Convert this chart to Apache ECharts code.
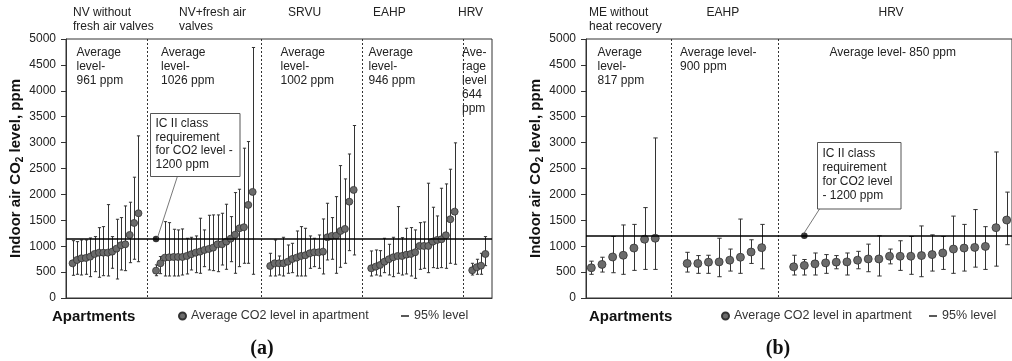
<!DOCTYPE html>
<html><head><meta charset="utf-8">
<script src="https://cdn.jsdelivr.net/npm/echarts@6/dist/echarts.min.js"></script>
<style>html,body{margin:0;padding:0;background:#fff}#c{width:1012px;height:361px}</style>
</head><body><div id="c"></div>
<script>
// ---------- Panel (a) data ----------
const aGroupNames = ['NV without fresh air valves', 'NV+fresh air valves', 'SRVU', 'EAHP', 'HRV'];
const aNvMean  = [670,734,767,773,798,850,875,875,875,895,953,1018,1037,1217,1449,1636];
const aNvLow   = [438,458,444,458,412,508,400,431,425,574,367,541,528,682,748,701];
const aNvHigh  = [1107,1088,1120,1120,1159,1185,1358,1378,1803,1185,1520,1552,1777,1849,2332,3130];
const aNvfMean = [528,670,779,786,792,792,792,811,844,875,895,927,947,972,1037,1037,1088,1146,1223,1346,1366,1797,2048];
const aNvfLow  = [430,470,425,425,425,425,444,464,541,489,477,605,541,528,508,637,554,701,477,605,670,670,458];
const aNvfHigh = [640,800,1474,1455,1327,1314,1333,1153,1172,1198,1540,1314,1597,1604,1604,1636,1810,1571,2035,2100,2892,3020,4836];
const aSrvuMean = [618,670,670,670,701,753,779,811,825,863,882,882,895,1172,1198,1204,1294,1333,1860,2087];
const aSrvuLow  = [425,425,444,425,477,489,425,425,425,573,605,573,464,734,748,477,593,670,914,831];
const aSrvuHigh = [863,1120,811,1172,1024,1056,1294,1378,1346,1198,1153,1217,1526,1829,1552,1957,2556,2299,2780,3330];
const aEahpMean = [573,605,637,701,748,786,811,811,837,850,882,1005,1005,1005,1088,1120,1134,1211,1520,1667];
const aEahpLow  = [425,444,425,489,444,412,477,444,464,425,380,554,573,489,586,573,586,573,670,651];
const aEahpHigh = [908,927,914,1153,1037,1172,1764,1165,1346,1359,1314,1455,1468,2216,1752,1584,2119,2202,2486,2995];
const aHrvMean = [535,593,624,850];
const aHrvLow  = [444,458,458,624];
const aHrvHigh = [670,748,863,1185];
const aRefLevel = 1140;
const aAnnotIndex = 20;

// ---------- Panel (b) data ----------
const bGroupNames = ['ME without heat recovery', 'EAHP', 'HRV'];
const bMeMean = [583,648,792,825,964,1135,1154];
const bMeLow  = [457,501,488,457,533,552,552];
const bMeHigh = [711,787,1187,1410,1421,1745,3090];
const bEahpMean = [667,667,692,697,730,787,888,972];
const bEahpLow  = [501,476,476,411,520,476,667,564];
const bEahpHigh = [882,819,825,1154,945,1524,1124,1421];
const bHrvMean = [602,629,659,678,692,697,730,754,754,806,806,806,819,838,869,945,964,977,996,1358,1505];
const bHrvLow  = [444,444,444,476,564,444,564,507,425,659,533,457,411,520,552,476,520,596,552,615,1029];
const bHrvHigh = [825,743,869,838,819,869,901,1040,1200,945,1105,1187,1391,1219,1187,1581,1421,1707,1377,2819,2044];
const bRefLevel = 1200;
const bAnnotIndex = 20;

const yTicks = [0,500,1000,1500,2000,2500,3000,3500,4000,4500,5000];

// ---------- build category layout ----------
function build(names, means, lows, highs, lead, gap, trail) {
  const cats = [], pts = [], bars = [], dividers = [];
  let idx = 0;
  for (let i = 0; i < lead; i++) { cats.push('blank-lead-' + i); idx++; }
  names.forEach((nm, gi) => {
    if (gi > 0) {
      const prevLast = idx - 1;
      for (let k = 0; k < gap; k++) { cats.push('blank-' + gi + '-' + k); idx++; }
      dividers.push([(prevLast + idx) / 2 + 0.5, 0]);
    }
    means[gi].forEach((m, j) => {
      cats.push(nm + ' ' + (j + 1));
      pts.push([idx, m]);
      bars.push([idx, lows[gi][j], highs[gi][j]]);
      idx++;
    });
  });
  for (let i = 0; i < trail; i++) cats.push('blank-trail-' + i);
  return { cats, pts, bars, dividers };
}
const A = build(aGroupNames,
  [aNvMean, aNvfMean, aSrvuMean, aEahpMean, aHrvMean],
  [aNvLow, aNvfLow, aSrvuLow, aEahpLow, aHrvLow],
  [aNvHigh, aNvfHigh, aSrvuHigh, aEahpHigh, aHrvHigh], 1, 3, 1);
const B = build(bGroupNames,
  [bMeMean, bEahpMean, bHrvMean],
  [bMeLow, bEahpLow, bHrvLow],
  [bMeHigh, bEahpHigh, bHrvHigh], 0, 2, 0);

const FONT = '"Liberation Sans", Arial, sans-serif';
const AXC = '#333';

function errorBar(capHalf) {
  return function (params, api) {
    const lo = api.coord([api.value(0), api.value(1)]);
    const hi = api.coord([api.value(0), api.value(2)]);
    const x = Math.round(lo[0]) + 0.5;
    const st = { stroke: '#333', lineWidth: 1 };
    return { type: 'group', children: [
      { type: 'line', shape: { x1: x, y1: hi[1], x2: x, y2: lo[1] }, style: st },
      { type: 'line', shape: { x1: x - capHalf, y1: hi[1], x2: x + capHalf, y2: hi[1] }, style: st },
      { type: 'line', shape: { x1: x - capHalf, y1: lo[1], x2: x + capHalf, y2: lo[1] }, style: st }
    ]};
  };
}
function dividerLine(params, api) {
  const x = Math.round(api.coord([api.value(0), 0])[0]) + 0.5;
  const cs = params.coordSys;
  return { type: 'line', shape: { x1: x, y1: cs.y, x2: x, y2: cs.y + cs.height },
    style: { stroke: '#333', lineWidth: 1, lineDash: [2, 2] } };
}

function yAxis(gi) {
  return {
    type: 'value', gridIndex: gi, min: yTicks[0], max: yTicks[yTicks.length - 1], interval: yTicks[1] - yTicks[0],
    axisLine: { show: true, lineStyle: { color: AXC } },
    axisTick: { show: true, length: 5, lineStyle: { color: AXC } },
    axisLabel: { fontSize: 12, color: '#222', fontFamily: FONT, margin: 10, formatter: v => String(v) },
    splitLine: { show: false },
    name: '{t|Indoor air CO}{s|2}{t| level, ppm}',
    nameLocation: 'middle', nameRotate: 90, nameGap: 35,
    nameTextStyle: { rich: {
      t: { fontSize: 15, fontWeight: 'bold', fontFamily: FONT, color: '#111', lineHeight: 20 },
      s: { fontSize: 10, fontWeight: 'bold', fontFamily: FONT, color: '#111', lineHeight: 12, verticalAlign: 'bottom' }
    } }
  };
}
function catAxis(gi, cats) {
  return { type: 'category', gridIndex: gi, data: cats, boundaryGap: true,
    axisLine: { lineStyle: { color: AXC } },
    axisTick: { interval: 0, length: 3, lineStyle: { color: '#555' } },
    axisLabel: { show: false }, splitLine: { show: false } };
}
function hiddenAxis(gi, n) {
  return { type: 'value', gridIndex: gi, min: 0, max: n, show: false, position: 'top', splitLine: { show: false } };
}
function panelSeries(P, xCat, xVal, yi, ref, annotIdx, size, cap) {
  return [
    { type: 'custom', name: '95% level', xAxisIndex: xCat, yAxisIndex: yi, data: P.bars,
      encode: { x: 0, y: [1, 2] }, renderItem: errorBar(cap), itemStyle: { color: '#222' }, z: 2, silent: true },
    { type: 'scatter', name: 'Average CO2 level in apartment', xAxisIndex: xCat, yAxisIndex: yi, data: P.pts,
      symbol: 'circle', symbolSize: size,
      itemStyle: { color: '#6b6b6b', borderColor: '#333', borderWidth: 0.8, opacity: 1 }, z: 3,
      markLine: { silent: true, symbol: ['none', 'none'], label: { show: false },
        lineStyle: { color: '#000', width: 1.5, type: 'solid' }, data: [{ yAxis: ref }] } },
    { type: 'scatter', name: 'IC II class requirement', xAxisIndex: xCat, yAxisIndex: yi,
      data: [[annotIdx, ref]], symbolSize: 6.5, itemStyle: { color: '#000' }, z: 4 },
    { type: 'custom', name: 'dividers', xAxisIndex: xVal, yAxisIndex: yi, data: P.dividers,
      encode: { x: 0, y: 1 }, renderItem: dividerLine, z: 1, silent: true }
  ];
}

function txt(text, x, yc, o) {
  o = o || {};
  const lh = o.lh || 14, size = o.size || 12, weight = o.weight || 'normal';
  const fam = o.family || FONT;
  return { type: 'text', x: x, y: yc - lh / 2, z: 20,
    style: { text: text, font: weight + ' ' + size + 'px ' + fam, fill: o.fill || '#222', lineHeight: lh,
      textAlign: o.align || 'left', align: o.align || 'left', textVerticalAlign: 'top', verticalAlign: 'top' } };
}
function box(x, y, w, h) {
  return { type: 'rect', z: 15, shape: { x: x, y: y, width: w, height: h },
    style: { fill: '#fff', stroke: '#555', lineWidth: 1 } };
}
function leader(x1, y1, x2, y2) {
  return { type: 'line', z: 14, shape: { x1, y1, x2, y2 }, style: { stroke: '#555', lineWidth: 0.8 } };
}

const legendBase = { orient: 'horizontal', padding: 0, selectedMode: false, itemGap: 10,
  textStyle: { fontSize: 12.5, color: '#333', fontFamily: FONT } };

const option = {
  animation: false,
  backgroundColor: '#fff',
  grid: [
    { left: 66, top: 39, width: 426, height: 259, show: true, borderColor: AXC, borderWidth: 1 },
    { left: 586, top: 39, width: 428, height: 259, show: true, borderColor: AXC, borderWidth: 1 }
  ],
  xAxis: [catAxis(0, A.cats), hiddenAxis(0, A.cats.length), catAxis(1, B.cats), hiddenAxis(1, B.cats.length)],
  yAxis: [yAxis(0), yAxis(1)],
  legend: [
    Object.assign({}, legendBase, { data: ['Average CO2 level in apartment'], left: 178, top: 309.5, icon: 'circle', itemWidth: 7, itemHeight: 7 }),
    Object.assign({}, legendBase, { data: ['95% level'], left: 401, top: 309.5, icon: 'rect', itemWidth: 8, itemHeight: 1.5 }),
    Object.assign({}, legendBase, { data: ['Average CO2 level in apartment'], left: 721, top: 309.5, icon: 'circle', itemWidth: 7, itemHeight: 7 }),
    Object.assign({}, legendBase, { data: ['95% level'], left: 929, top: 309.5, icon: 'rect', itemWidth: 8, itemHeight: 1.5 })
  ],
  series: [].concat(
    panelSeries(A, 0, 1, 0, aRefLevel, aAnnotIndex, 7, 1.6),
    panelSeries(B, 2, 3, 1, bRefLevel, bAnnotIndex, 8, 2.2)
  ),
  graphic: [
    txt('NV without\nfresh air valves', 73, 12.7),
    txt('NV+fresh air\nvalves', 179, 12.7),
    txt('SRVU', 288, 12.7),
    txt('EAHP', 373, 12.7),
    txt('HRV', 458, 12.7),
    txt('Average\nlevel-\n961 ppm', 76.5, 52.7),
    txt('Average\nlevel-\n1026 ppm', 161, 52.7),
    txt('Average\nlevel-\n1002 ppm', 280.5, 52.7),
    txt('Average\nlevel-\n946 ppm', 368.5, 52.7),
    txt('Ave-\nrage\nlevel\n644\nppm', 462, 52.7),
    leader(157.3, 238.3, 177.3, 176.7),
    box(150.5, 113.5, 89.5, 63),
    txt('IC II class\nrequirement\nfor CO2 level -\n1200 ppm', 155.5, 124, { lh: 13.5 }),
    txt('Apartments', 52, 317, { size: 15, weight: 'bold', fill: '#111' }),
    txt('(a)', 262, 349, { size: 20, weight: 'bold', fill: '#111', align: 'center', lh: 24, family: '"Liberation Serif", serif' }),
    txt('ME without\nheat recovery', 589, 12.7),
    txt('EAHP', 706.5, 12.7),
    txt('HRV', 878.5, 12.7),
    txt('Average\nlevel-\n817 ppm', 597.5, 52.7),
    txt('Average level-\n900 ppm', 680, 52.7),
    txt('Average level- 850 ppm', 829.5, 52.7),
    leader(803.3, 234.3, 819.5, 209),
    box(817.5, 142.5, 83.5, 66.5),
    txt('IC II class\nrequirement\nfor CO2 level\n- 1200 ppm', 822.5, 153.3, { lh: 14 }),
    txt('Apartments', 589, 317, { size: 15, weight: 'bold', fill: '#111' }),
    txt('(b)', 778, 349, { size: 20, weight: 'bold', fill: '#111', align: 'center', lh: 24, family: '"Liberation Serif", serif' })
  ]
};

const chart = echarts.init(document.getElementById('c'), null, { renderer: 'canvas' });
chart.setOption(option);
</script>
</body></html>
